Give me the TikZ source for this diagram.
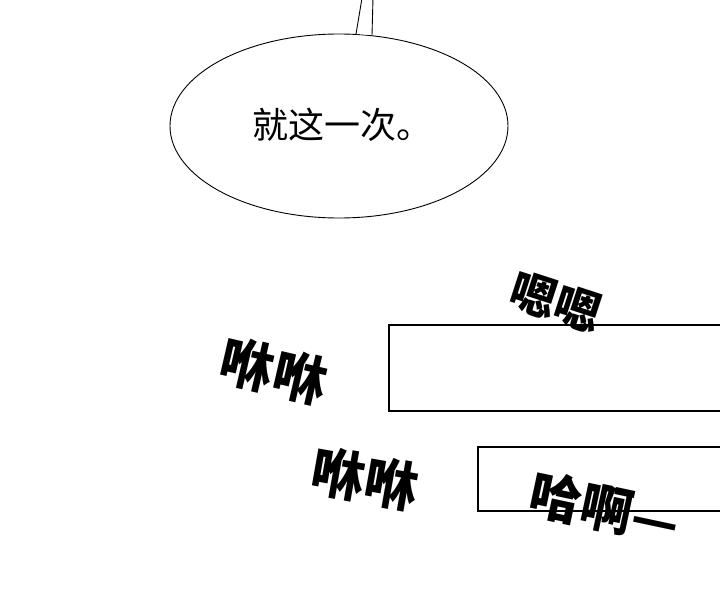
\documentclass[tikz,border=0pt]{standalone}
\usepackage{fontspec}
\newfontfamily\cjk{Noto Sans CJK SC}
\newfontfamily\cjkheavy{Noto Sans CJK SC Black}
\tikzset{
  panel/.style={draw,line width=1.3pt},
  bubble/.style={draw,ellipse,line width=0.9pt,minimum width=338pt,minimum height=184pt,inner sep=0pt},
  sfx/.style={font=\cjkheavy\fontsize{#1}{#1}\selectfont,inner sep=0pt}
}
\usetikzlibrary{shapes.geometric}
\begin{document}
\begin{tikzpicture}[x=1pt,y=-1pt]
\clip (0,0) rectangle (720,599);
\fill[white] (0,0) rectangle (720,599);
\node[bubble] (b0) at (339,126) {};
\fill[white] (356,34) -- (362,-2) -- (373,-2) -- (372,35) -- cycle;
\draw[line width=0.9pt] (356,34) -- (362,-2);
\draw[line width=0.9pt] (372,35) -- (373,-2);
\node[font=\cjk\fontsize{36}{36}\selectfont,inner sep=0pt] (t0) at (342,125) {就这一次。};
\draw[panel] (389,325) rectangle (730,411);
\draw[panel] (478,447) rectangle (730,511);
\node[sfx=46,rotate=-18] (t1) at (556,302) {嗯嗯};
\node[sfx=54,rotate=-13] (t2) at (274,371) {咻咻};
\node[sfx=54,rotate=-10] (t3) at (365,479) {咻咻};
\node[sfx=52,rotate=-12] (t4) at (605,508) {哈啊—};
\end{tikzpicture}
\end{document}
